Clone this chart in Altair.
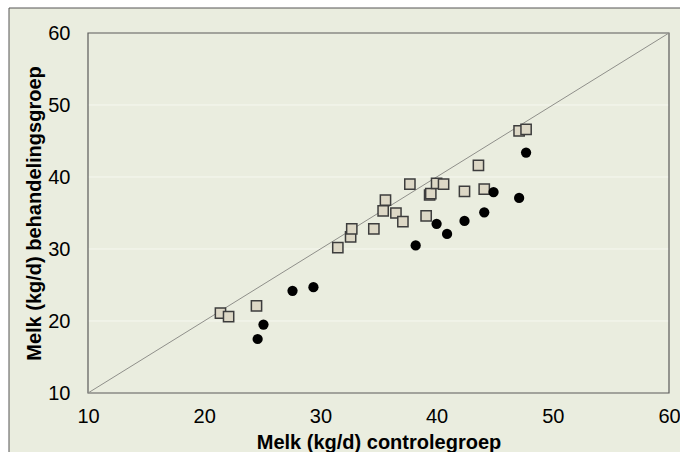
import altair as alt
import pandas as pd

# Milk yield per cow: control group (x) vs treatment group (y)
sq_control = [21.4, 22.1, 24.5, 31.5, 32.6, 32.7, 34.6, 35.4, 35.6, 36.5, 37.1,
              37.7, 39.1, 39.4, 39.5, 40.0, 40.6, 42.4, 43.6, 44.1, 47.1, 47.7]
sq_treat = [21.1, 20.6, 22.1, 30.2, 31.7, 32.8, 32.8, 35.3, 36.8, 35.0, 33.8,
            39.0, 34.6, 37.5, 37.7, 39.1, 39.0, 38.0, 41.6, 38.3, 46.4, 46.6]

dot_control = [24.6, 25.1, 27.6, 29.4, 38.2, 40.0, 40.9, 42.4, 44.1, 44.9, 47.1, 47.7]
dot_treat = [17.5, 19.5, 24.2, 24.7, 30.5, 33.5, 32.1, 33.9, 35.1, 37.9, 37.1, 43.4]

diag = [10, 60]
grid_levels = [20, 30, 40, 50]

sq_df = pd.DataFrame({"c": sq_control, "t": sq_treat})
dot_df = pd.DataFrame({"c": dot_control, "t": dot_treat})
diag_df = pd.DataFrame({"c": diag, "t": diag})
grid_df = pd.DataFrame({"t": grid_levels})

FONT = "Liberation Sans"
BG = "#eaeddf"

x_scale = alt.Scale(domain=[10, 60], nice=False, zero=False)
y_scale = alt.Scale(domain=[10, 60], nice=False, zero=False)

x_axis = alt.Axis(
    title="Melk (kg/d) controlegroep", values=[10, 20, 30, 40, 50, 60],
    grid=False, ticks=False, domain=False, labelFlush=False,
    labelFontSize=20, labelFont=FONT, labelColor="#000000", labelPadding=13,
    titleFontSize=20, titleFont=FONT, titleFontWeight="bold",
    titleColor="#000000", titlePadding=6, zindex=2,
)
y_axis = alt.Axis(
    title="Melk (kg/d) behandelingsgroep", values=[10, 20, 30, 40, 50, 60],
    grid=False, ticks=False, domain=False, labelFlush=False,
    labelFontSize=20, labelFont=FONT, labelColor="#000000", labelPadding=18,
    titleFontSize=20, titleFont=FONT, titleFontWeight="bold",
    titleColor="#000000", titlePadding=3, zindex=2,
)

one = pd.DataFrame({"a": [0]})

# outer frame around the whole figure
frame = alt.Chart(one).mark_rect(
    fill=BG, stroke="#555555", strokeWidth=1
).encode(
    x=alt.value(-79), x2=alt.value(700), y=alt.value(-25), y2=alt.value(500)
)

grid = alt.Chart(grid_df).mark_rule(color="#f6f8f0", strokeWidth=1).encode(
    y=alt.Y("t:Q", scale=y_scale, axis=y_axis),
    x=alt.value(0), x2=alt.value(581),
)

# plot-area border
border = alt.Chart(one).mark_rect(
    fillOpacity=0, stroke="#5a5a5a", strokeWidth=1.2
).encode(
    x=alt.value(0), x2=alt.value(581), y=alt.value(0), y2=alt.value(360)
)

line = alt.Chart(diag_df).mark_line(color="#8f8f8a", strokeWidth=1).encode(
    x=alt.X("c:Q", scale=x_scale, axis=x_axis),
    y=alt.Y("t:Q", scale=y_scale, axis=y_axis),
)

squares = alt.Chart(sq_df).mark_point(
    shape="square", size=105, filled=True, fill="#ddd8c6", opacity=1,
    stroke="#3d3d3d", strokeWidth=1.5
).encode(x="c:Q", y="t:Q")

dots = alt.Chart(dot_df).mark_point(
    shape="circle", size=105, filled=True, color="#000000", opacity=1
).encode(x="c:Q", y="t:Q")

chart = alt.layer(frame, grid, border, line, squares, dots).properties(
    width=581, height=360,
    autosize=alt.AutoSizeParams(type="none"),
    padding={"left": 88, "top": 33, "right": 11, "bottom": 59},
    background="#ffffff",
).configure_view(
    fill=BG, stroke=None
)

chart.save("out.html", embed_options={"renderer": "svg", "actions": False})
